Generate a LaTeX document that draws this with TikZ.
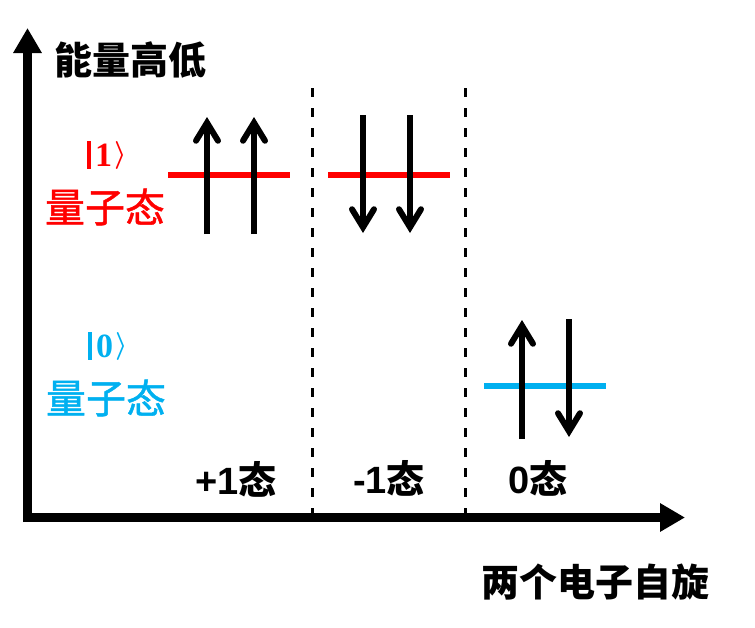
\documentclass[tikz,border=0pt]{standalone}
\usepackage{fontspec}
\setmainfont{Liberation Sans}
\newfontfamily\cjk{Noto Sans CJK SC}
\newfontfamily\cjkm{Noto Sans CJK SC}[FakeBold=1.2]
\newfontfamily\ketfont{Liberation Serif}
\usetikzlibrary{arrows.meta}
\definecolor{qred}{HTML}{FF0000}
\definecolor{qblue}{HTML}{00B0F0}
\newcommand{\myket}[1]{\rule[-2pt]{4pt}{28pt}\kern4pt{\ketfont\bfseries\fontsize{34}{34}\selectfont #1}\kern2pt\raisebox{4.5pt}{\scalebox{2.8}{\boldmath$\rangle$}}}
\begin{document}
\begin{tikzpicture}[x=1pt,y=-1pt,
  axisline/.style={line width=9pt, -{Triangle[length=25pt,width=27pt]}},
  spin/.style={line width=6pt, -{Straight Barb[length=18pt,width=22pt,line cap=round]}},
  level/.style={line width=6pt},
  divider/.style={line width=3pt, dash pattern=on 9pt off 11pt},
  blk/.style={inner sep=0pt, font=\cjk\bfseries\fontsize{38}{40}\selectfont},
  num/.style={inner sep=0pt, font=\bfseries\fontsize{38}{40}\selectfont},
  stt/.style={inner sep=0pt, font=\cjkm\fontsize{40}{42}\selectfont},
  ket/.style={inner sep=0pt}
]
\useasboundingbox (0,0) rectangle (755,627);
% axes
\coordinate (o1) at (27.5,522);
\coordinate (ytip) at (27.5,28);
\coordinate (o2) at (23,517.5);
\coordinate (xtip) at (685,517.5);
\draw[axisline] (o1) -- (ytip);
\draw[axisline] (o2) -- (xtip);
% dividers
\coordinate (d1t) at (312,88); \coordinate (d1b) at (312,517);
\coordinate (d2t) at (465.5,88); \coordinate (d2b) at (465.5,517);
\draw[divider] (d1t) -- (d1b);
\draw[divider] (d2t) -- (d2b);
% levels
\coordinate (r1a) at (168,175); \coordinate (r1b) at (290,175);
\coordinate (r2a) at (328,175); \coordinate (r2b) at (450,175);
\coordinate (b1a) at (484,386); \coordinate (b1b) at (606,386);
\draw[level,qred] (r1a) -- (r1b);
\draw[level,qred] (r2a) -- (r2b);
\draw[level,qblue] (b1a) -- (b1b);
% spins
\coordinate (u1s) at (207,234); \coordinate (u1e) at (207,117);
\coordinate (u2s) at (254,234); \coordinate (u2e) at (254,117);
\coordinate (d1s) at (363,115); \coordinate (d1e) at (363,233);
\coordinate (d2s) at (410,115); \coordinate (d2e) at (410,233);
\coordinate (u3s) at (522,439); \coordinate (u3e) at (522,320);
\coordinate (d3s) at (569,319); \coordinate (d3e) at (569,437);
\draw[spin] (u1s) -- (u1e);
\draw[spin] (u2s) -- (u2e);
\draw[spin] (d1s) -- (d1e);
\draw[spin] (d2s) -- (d2e);
\draw[spin] (u3s) -- (u3e);
\draw[spin] (d3s) -- (d3e);
% labels
\node[blk] (energy) at (130,60) {能量高低};
\node[ket,qred] (ket1) at (107,155) {\myket{1}};
\node[stt,qred] (st1) at (105,207) {量子态};
\node[ket,qblue] (ket0) at (108,346) {\myket{0}};
\node[stt,qblue] (st0) at (106,398) {量子态};
\node[num] (p1) at (236,479) {+1{\cjk 态}};
\node[num] (m1) at (389,478) {-1{\cjk 态}};
\node[num] (z0) at (538,478) {0{\cjk 态}};
\node[blk] (spinlbl) at (595,582) {两个电子自旋};
\end{tikzpicture}
\end{document}
